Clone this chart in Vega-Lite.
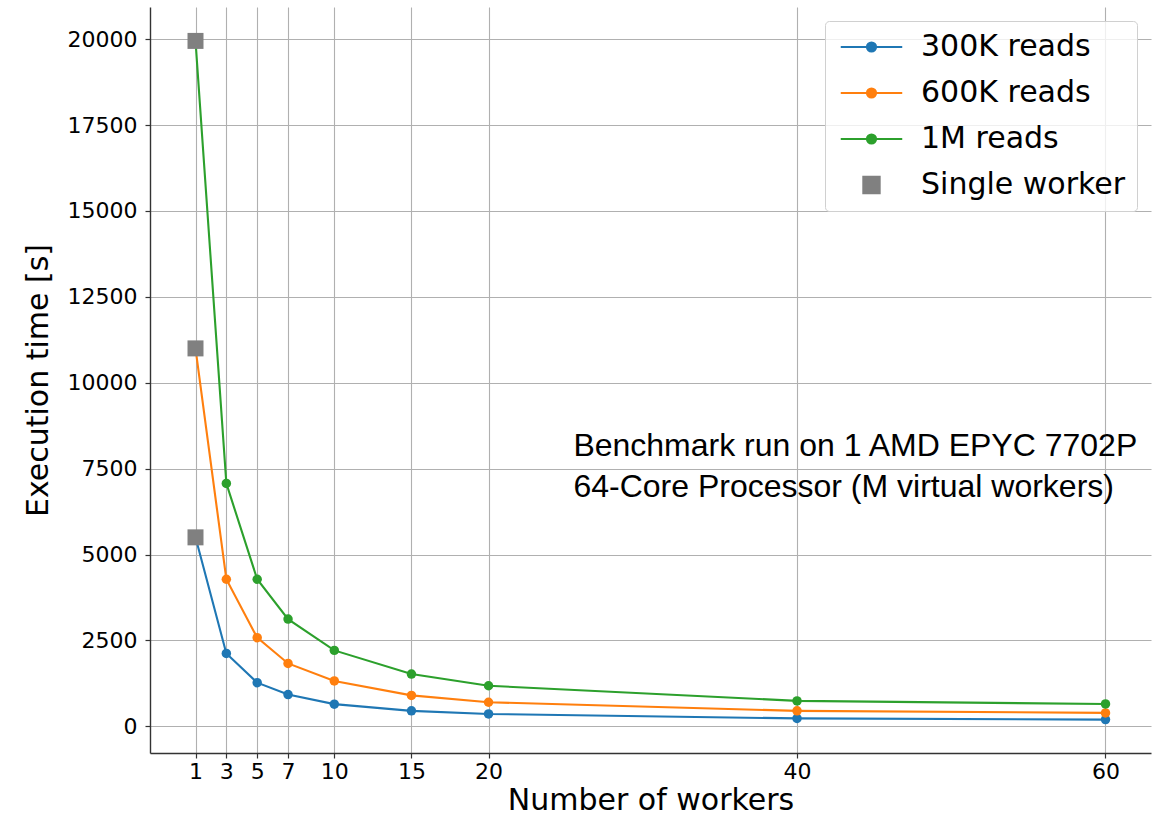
{
  "$schema": "https://vega.github.io/schema/vega-lite/v6.json",
  "autosize": "none",
  "width": 1001,
  "height": 746,
  "padding": {"left": 150, "top": 7, "right": 3, "bottom": 64},
  "background": "white",
  "config": {
    "view": {"stroke": null},
    "font": "DejaVu Sans",
    "axis": {
      "labelFont": "DejaVu Sans",
      "labelFontSize": 22,
      "labelColor": "black",
      "titleFont": "DejaVu Sans",
      "titleFontSize": 30,
      "titleFontWeight": "normal",
      "titleColor": "black",
      "grid": true,
      "gridColor": "#b0b0b0",
      "gridWidth": 1.1,
      "domainColor": "#333333",
      "domainWidth": 1.4,
      "tickColor": "#333333",
      "tickWidth": 1.2,
      "tickSize": 5
    }
  },
  "datasets": {
    "runs": [
      {"workers": 1, "time": 5500, "series": "300K reads"},
      {"workers": 3, "time": 2120, "series": "300K reads"},
      {"workers": 5, "time": 1270, "series": "300K reads"},
      {"workers": 7, "time": 925, "series": "300K reads"},
      {"workers": 10, "time": 645, "series": "300K reads"},
      {"workers": 15, "time": 450, "series": "300K reads"},
      {"workers": 20, "time": 360, "series": "300K reads"},
      {"workers": 40, "time": 230, "series": "300K reads"},
      {"workers": 60, "time": 195, "series": "300K reads"},
      {"workers": 1, "time": 11000, "series": "600K reads"},
      {"workers": 3, "time": 4280, "series": "600K reads"},
      {"workers": 5, "time": 2580, "series": "600K reads"},
      {"workers": 7, "time": 1830, "series": "600K reads"},
      {"workers": 10, "time": 1320, "series": "600K reads"},
      {"workers": 15, "time": 900, "series": "600K reads"},
      {"workers": 20, "time": 700, "series": "600K reads"},
      {"workers": 40, "time": 450, "series": "600K reads"},
      {"workers": 60, "time": 390, "series": "600K reads"},
      {"workers": 1, "time": 19950, "series": "1M reads"},
      {"workers": 3, "time": 7070, "series": "1M reads"},
      {"workers": 5, "time": 4280, "series": "1M reads"},
      {"workers": 7, "time": 3120, "series": "1M reads"},
      {"workers": 10, "time": 2210, "series": "1M reads"},
      {"workers": 15, "time": 1520, "series": "1M reads"},
      {"workers": 20, "time": 1180, "series": "1M reads"},
      {"workers": 40, "time": 740, "series": "1M reads"},
      {"workers": 60, "time": 650, "series": "1M reads"}
    ],
    "single": [
      {"workers": 1, "time": 5500, "series": "Single worker"},
      {"workers": 1, "time": 11000, "series": "Single worker"},
      {"workers": 1, "time": 19950, "series": "Single worker"}
    ],
    "note": [
      {"workers": 25.5, "time": 7860, "text": "Benchmark run on 1 AMD EPYC 7702P"},
      {"workers": 25.5, "time": 6660, "text": "64-Core Processor (M virtual workers)"}
    ]
  },
  "layer": [
    {
      "data": {"name": "runs"},
      "mark": {"type": "line", "strokeWidth": 2.1, "point": {"filled": true, "size": 90, "opacity": 1}},
      "encoding": {
        "x": {
          "field": "workers", "type": "quantitative",
          "scale": {"domain": [-1.95, 62.95], "nice": false, "zero": false},
          "axis": {"values": [1, 3, 5, 7, 10, 15, 20, 40, 60], "title": "Number of workers", "labelPadding": 3, "titlePadding": 3, "labelFlush": false}
        },
        "y": {
          "field": "time", "type": "quantitative",
          "scale": {"domain": [-777, 20937], "nice": false, "zero": false},
          "axis": {"values": [0, 2500, 5000, 7500, 10000, 12500, 15000, 17500, 20000], "title": "Execution time [s]", "labelPadding": 8, "titlePadding": 14, "format": "d", "labelFlush": false}
        },
        "color": {
          "field": "series", "type": "nominal",
          "scale": {
            "domain": ["300K reads", "600K reads", "1M reads", "Single worker"],
            "range": ["#1f77b4", "#ff7f0e", "#2ca02c", "#808080"]
          },
          "legend": {
            "title": null,
            "orient": "top-right",
            "offset": 14,
            "padding": 11,
            "fillColor": "rgba(255,255,255,0.8)",
            "strokeColor": "#d0d0d0",
            "cornerRadius": 4,
            "labelFont": "DejaVu Sans",
            "labelFontSize": 30,
            "labelColor": "black",
            "labelLimit": 400,
            "symbolSize": 420,
            "labelOffset": 55,
            "rowPadding": 16,
            "encode": {
              "symbols": {
                "update": {
                  "shape": {"signal": "datum.value === 'Single worker' ? 'M1.2,-0.8L2.8,-0.8L2.8,0.8L1.2,0.8Z' : 'M-1,0L5,0M2.45,0A0.45,0.45,0,1,1,1.55,0A0.45,0.45,0,1,1,2.45,0Z'"},
                  "fill": {"signal": "scale('color', datum.value)"},
                  "stroke": {"signal": "datum.value === 'Single worker' ? 'transparent' : scale('color', datum.value)"},
                  "strokeWidth": {"value": 2},
                  "opacity": {"value": 1},
                  "fillOpacity": {"value": 1},
                  "strokeOpacity": {"value": 1}
                }
              }
            }
          }
        }
      }
    },
    {
      "data": {"name": "single"},
      "mark": {"type": "point", "shape": "square", "filled": true, "size": 256, "opacity": 1},
      "encoding": {
        "x": {"field": "workers", "type": "quantitative"},
        "y": {"field": "time", "type": "quantitative"},
        "color": {"field": "series", "type": "nominal"}
      }
    },
    {
      "data": {"name": "note"},
      "mark": {"type": "text", "font": "Liberation Sans", "fontSize": 32, "align": "left", "baseline": "alphabetic", "color": "black"},
      "encoding": {
        "x": {"field": "workers", "type": "quantitative"},
        "y": {"field": "time", "type": "quantitative"},
        "text": {"field": "text"}
      }
    }
  ]
}
